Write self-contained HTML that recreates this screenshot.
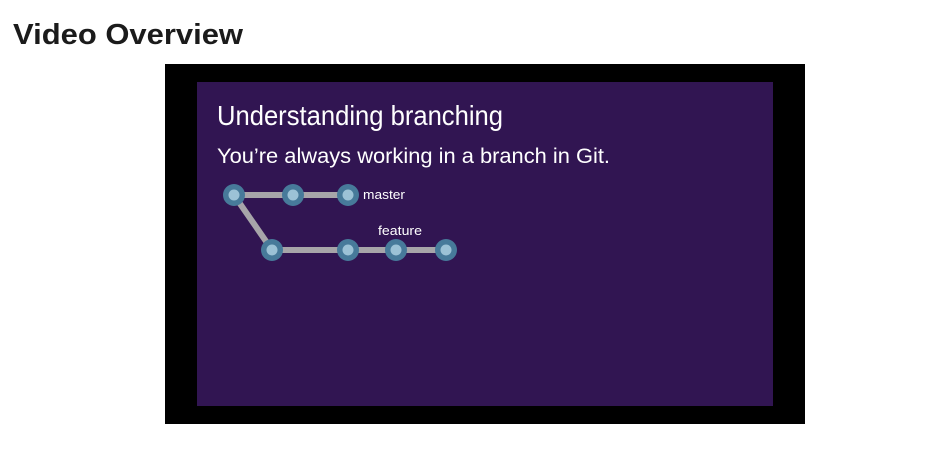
<!DOCTYPE html>
<html><head><style>
html,body{margin:0;padding:0;background:#fff;width:928px;height:464px;overflow:hidden}
</style></head><body>
<svg width="928" height="464" xmlns="http://www.w3.org/2000/svg" style="display:block">
<text x="13" y="44" font-family="Liberation Sans, sans-serif" font-weight="bold" font-size="29" fill="#1b1b1b" textLength="230" lengthAdjust="spacingAndGlyphs">Video Overview</text>
<rect x="165" y="64" width="640" height="360" fill="#000"/>
<rect x="197" y="82" width="576" height="324" fill="#311552"/>
<text x="217" y="125" font-family="Liberation Sans, sans-serif" font-size="28" fill="#fff" textLength="286" lengthAdjust="spacingAndGlyphs">Understanding branching</text>
<text x="217" y="163" font-family="Liberation Sans, sans-serif" font-size="21" fill="#fff" textLength="393" lengthAdjust="spacingAndGlyphs">You’re always working in a branch in Git.</text>
<g stroke="#a7a5a9" stroke-width="6" fill="none">
<line x1="234" y1="195" x2="348" y2="195"/>
<polyline points="234,195 272,250 446,250"/>
</g>
<g fill="#477a9a">
<circle cx="234" cy="195" r="11"/><circle cx="293" cy="195" r="11"/><circle cx="348" cy="195" r="11"/>
<circle cx="272" cy="250" r="11"/><circle cx="348" cy="250" r="11"/><circle cx="396" cy="250" r="11"/><circle cx="446" cy="250" r="11"/>
</g>
<g fill="#9cc2d6">
<circle cx="234" cy="195" r="5.5"/><circle cx="293" cy="195" r="5.5"/><circle cx="348" cy="195" r="5.5"/>
<circle cx="272" cy="250" r="5.5"/><circle cx="348" cy="250" r="5.5"/><circle cx="396" cy="250" r="5.5"/><circle cx="446" cy="250" r="5.5"/>
</g>
<text x="363" y="199" font-family="Liberation Sans, sans-serif" font-size="13" fill="#fff" textLength="42" lengthAdjust="spacingAndGlyphs">master</text>
<text x="378" y="235" font-family="Liberation Sans, sans-serif" font-size="13" fill="#fff" textLength="44" lengthAdjust="spacingAndGlyphs">feature</text>
</svg>
</body></html>
